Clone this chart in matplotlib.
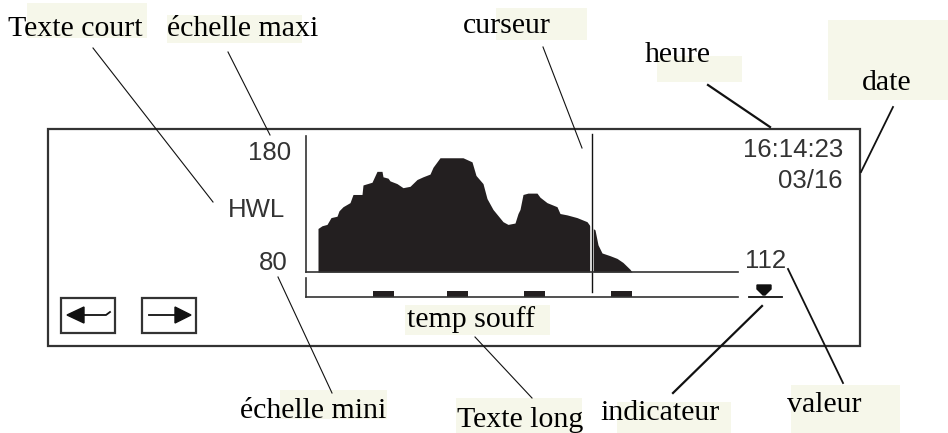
import matplotlib
matplotlib.use("Agg")
import matplotlib.pyplot as plt
from matplotlib.patches import Rectangle, Polygon

#Display content
scale_min = 80
scale_max = 180
short_text = "HWL"
long_text = "temp souff"
clock = "16:14:23"
day = "03/16"
current_value = "112"

#Histogram profile (sample index, value)
hist_t = [12, 12, 16, 21, 25, 31, 33, 37, 44, 47, 56, 57, 66, 71, 76, 77, 82, 84, 91, 97,
          104, 111, 117, 124, 127, 134, 141, 157, 166, 170, 177, 181, 187, 197, 202, 209,
          212, 214, 217, 222, 231, 234, 241, 251, 254, 261, 271, 281, 284, 287, 289, 292,
          296, 304, 311, 317, 324, 326]
hist_val = [80, 112, 114, 115, 120, 121, 125, 128, 131, 137, 137, 144, 146, 154, 154, 150,
            149, 147, 145, 142, 143, 148, 150, 152, 157, 164, 164, 164, 161, 151, 145, 134,
            126, 117, 115, 116, 123, 126, 137, 138, 138, 135, 131, 128, 123, 122, 120, 117,
            114, 112, 111, 100, 94, 92, 90, 87, 82, 80]
n_samples = 432
cursor_t = 286
marker_t = [67, 141, 218, 305]
marker_w = 21

#Callout labels: text, text x, baseline y, leader line start/end, highlight box
labels = ["Texte court", "échelle maxi", "curseur", "heure", "date",
          "temp souff", "échelle mini", "Texte long", "indicateur", "valeur"]

W, H = 948, 433
ink = "#333333"
serif = "Liberation Serif"
sans = "Liberation Sans"

fig = plt.figure(figsize=(W/100, H/100), dpi=100)
ax = fig.add_axes([0, 0, 1, 1])
ax.set_xlim(0, W)
ax.set_ylim(H, 0)
ax.axis("off")

#pale highlight boxes behind the callout labels
hl = "#f6f7ea"
for (x0, y0, x1, y1) in [(27, 3, 147, 38), (167, 15, 302, 43), (496, 8, 587, 40),
                         (657, 56, 742, 82), (828, 20, 948, 100), (405, 305, 550, 335),
                         (280, 390, 387, 419), (456, 398, 582, 433), (617, 402, 731, 433),
                         (791, 385, 900, 433)]:
    ax.add_patch(Rectangle((x0, y0), x1-x0, y1-y0, facecolor=hl, edgecolor="none", zorder=0))

#outer display frame
ax.add_patch(Rectangle((48, 129), 812, 217, fill=False, edgecolor=ink, lw=1.6, zorder=2))

#arrow buttons
for bx in [61, 142]:
    ax.add_patch(Rectangle((bx, 298), 54, 35, fill=False, edgecolor=ink, lw=1.6, zorder=2))
ax.plot([82, 106, 110], [315, 315, 312], color="#111111", lw=1.3, zorder=3)
ax.add_patch(Polygon([(67, 315), (84, 307), (84, 323)], closed=True, color="#111111", zorder=3))
ax.plot([149, 176], [315, 315], color="#111111", lw=1.3, zorder=3)
ax.add_patch(Polygon([(191, 315), (175, 307), (175, 323)], closed=True, color="#111111", zorder=3))

#display texts
ax.text(291, 160, str(scale_max), ha="right", va="baseline", fontsize=18.5, family=sans, color=ink)
ax.text(285, 217, short_text, ha="right", va="baseline", fontsize=18.5, family=sans, color=ink)
ax.text(288, 270, str(scale_min), ha="right", va="baseline", fontsize=18.5, family=sans, color=ink)
ax.text(745, 268, current_value, ha="left", va="baseline", fontsize=18.5, family=sans, color=ink)
ax.text(843, 157, clock, ha="right", va="baseline", fontsize=18.5, family=sans, color=ink)
ax.text(843, 188, day, ha="right", va="baseline", fontsize=18.5, family=sans, color=ink)

#indicator
ax.plot([749, 782], [297, 297], color="#111111", lw=1.3, zorder=3)
ax.add_patch(Polygon([(757, 285), (771, 285), (771, 289), (765, 295), (763, 295), (757, 289)],
                     closed=True, color="#111111", zorder=3))

#callout texts
pos = [(8, 36, "left"), (167, 36, "left"), (463, 33, "left"), (645, 62, "left"),
       (862, 90, "left"), (407, 327, "left"), (240, 418, "left"), (457, 427, "left"),
       (600, 420, "left"), (787, 412, "left")]
for txt, (tx, ty, ha) in zip(labels, pos):
    ax.text(tx, ty, txt, ha=ha, va="baseline", fontsize=21.5, family=serif, color="black", zorder=4)

#leader lines
for (x0, y0, x1, y1, w) in [(93, 48, 213, 202, 0.8), (228, 52, 270, 135, 0.8),
                            (543, 47, 582, 148, 0.8), (708, 85, 770, 127, 1.6),
                            (893, 107, 861, 172, 1.3), (278, 277, 332, 393, 0.8),
                            (475, 337, 532, 398, 0.8), (762, 306, 673, 393, 1.6),
                            (788, 269, 843, 383, 1.3)]:
    ax.plot([x0, x1], [y0, y1], color="#111111", lw=w, zorder=3)

#histogram axes
ax2 = fig.add_axes([306/W, (H-272)/H, 432/W, 136/H])
ax2.set_facecolor("none")
ax2.fill_between(hist_t, scale_min, hist_val, color="#231f20", lw=0)
ax2.set_xlim(0, n_samples)
ax2.set_ylim(scale_min, scale_max)
for s in ["top", "right"]:
    ax2.spines[s].set_visible(False)
for s in ["left", "bottom"]:
    ax2.spines[s].set_color(ink)
    ax2.spines[s].set_linewidth(1.2)
ax2.set_xticks([])
ax2.set_yticks([])
ax2.axvline(cursor_t, ymin=-0.147, ymax=1.015, color="white", lw=2.6, clip_on=False)
ax2.axvline(cursor_t, ymin=-0.147, ymax=1.015, color="#111111", lw=1.0, clip_on=False)

#marker strip
ax3 = fig.add_axes([306/W, (H-297)/H, 432/W, 19/H])
ax3.set_facecolor("none")
ax3.bar(marker_t, 6/19, width=marker_w, align="edge", bottom=0, color="#231f20")
ax3.set_xlim(0, n_samples)
ax3.set_ylim(0, 1)
for s in ["top", "right"]:
    ax3.spines[s].set_visible(False)
for s in ["left", "bottom"]:
    ax3.spines[s].set_color(ink)
    ax3.spines[s].set_linewidth(1.2)
ax3.set_xticks([])
ax3.set_yticks([])

plt.savefig("out.png", dpi=100)
